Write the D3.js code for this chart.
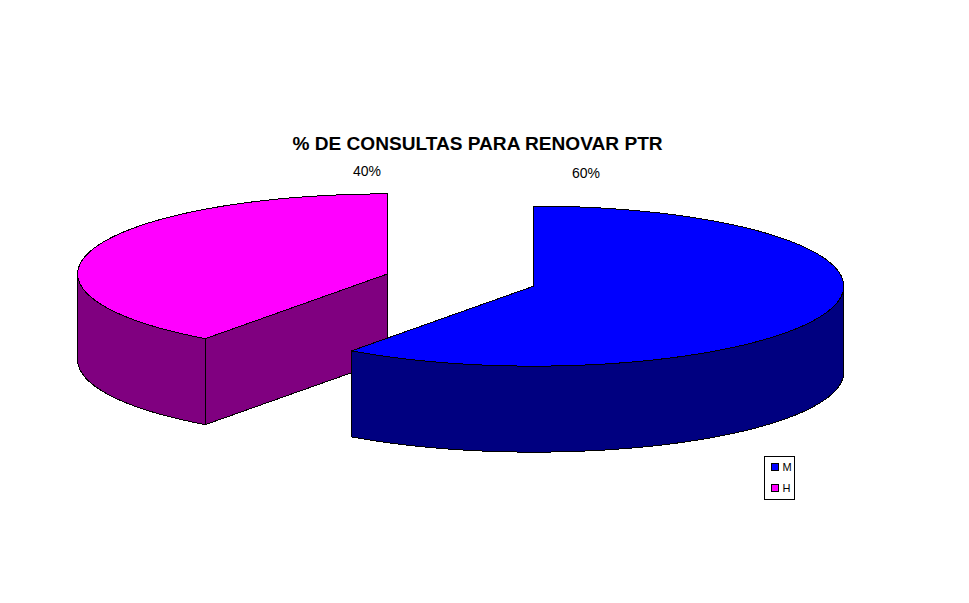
<!DOCTYPE html>
<html>
<head>
<meta charset="utf-8">
<style>
  html, body { margin: 0; padding: 0; background: #fff; }
  text { font-family: "Liberation Sans", Arial, sans-serif; fill: #000; }
</style>
</head>
<body>
<div id="chart"></div>
<script src="https://cdn.jsdelivr.net/npm/d3@7"></script>
<script>
const categories = ["M", "H"];
const values = [60, 40];
const topColors = ["#0000ff", "#ff00ff"];
const sideColors = ["#000080", "#800080"];
const chartTitle = "% DE CONSULTAS PARA RENOVAR PTR";

const width = 969, height = 603;

// pie geometry
const cx = 460.7, cy = 280;
const rx = 310, ry = 80;
const depth = 86;
const explode = 76.8;

const svg = d3.select("#chart").append("svg")
    .attr("width", width)
    .attr("height", height)
    .style("display", "block");

const slices = d3.pie().sort(null)(values);
const total = d3.sum(values);
const pct = d3.format(".0%");

// angle in radians (clockwise from 12 o'clock) -> point on the tilted ellipse
const xScale = d3.scaleLinear().domain([-1, 1]).range([-rx, rx]);
const yScale = d3.scaleLinear().domain([-1, 1]).range([-ry, ry]);
const px = (c, a) => c.x + xScale(Math.sin(a));
const py = (c, a) => c.y + yScale(-Math.cos(a));

const line = d3.line().x(d => d[0]).y(d => d[1]);

function centre(s) {
    const mid = (s.startAngle + s.endAngle) / 2;
    return {
        x: cx + explode * Math.sin(mid),
        y: cy - explode * Math.cos(mid) * ry / rx
    };
}

function rim(c, a0, a1, dy) {
    const n = Math.max(2, Math.ceil(Math.abs(a1 - a0) / 0.01));
    return d3.range(n + 1).map(i => {
        const a = a0 + (a1 - a0) * i / n;
        return [px(c, a), py(c, a) + dy];
    });
}

function topPath(s) {
    const c = centre(s);
    return line([[c.x, c.y], ...rim(c, s.startAngle, s.endAngle, 0)]) + "Z";
}

// walls that face the viewer, one list per slice
function wallPaths(s) {
    const c = centre(s);
    const walls = [];
    const from = Math.max(s.startAngle, Math.PI / 2);
    const to = Math.min(s.endAngle, Math.PI * 1.5);
    if (from < to) {
        const upper = rim(c, from, to, 0);
        const lower = rim(c, to, from, depth);
        walls.push(line([...upper, ...lower]) + "Z");
    }
    // cut face on the far end of the pink slice
    if (s.startAngle > Math.PI) {
        const a = s.startAngle;
        const ex = px(c, a), ey = py(c, a);
        walls.push(line([[ex, ey], [c.x, c.y], [c.x, c.y + depth], [ex, ey + depth]]) + "Z");
    }
    return walls;
}

// pink goes first, the blue slice sits in front of it
const order = slices.map((s, i) => ({ s, i })).reverse();

const group = svg.selectAll("g.slice")
    .data(order)
    .join("g")
    .attr("class", "slice")
    .attr("shape-rendering", "crispEdges")
    .attr("stroke", "#000")
    .attr("stroke-width", 1)
    .attr("stroke-linejoin", "round");

group.selectAll("path.wall")
    .data(d => wallPaths(d.s).map(p => ({ p, i: d.i })))
    .join("path")
    .attr("class", "wall")
    .attr("d", d => d.p)
    .attr("fill", d => sideColors[d.i]);

group.append("path")
    .attr("class", "top")
    .attr("d", d => topPath(d.s))
    .attr("fill", d => topColors[d.i]);

svg.append("text")
    .attr("x", 477.5)
    .attr("y", 150)
    .attr("text-anchor", "middle")
    .attr("font-size", 19.1)
    .attr("font-weight", "bold")
    .text(chartTitle);

// percent labels
const labelX = [586, 367];
const labelY = [178, 176];
svg.selectAll("text.pct")
    .data(slices)
    .join("text")
    .attr("class", "pct")
    .attr("x", (d, i) => labelX[i])
    .attr("y", (d, i) => labelY[i])
    .attr("text-anchor", "middle")
    .attr("font-size", 14)
    .text(d => pct(d.value / total));

// legend
const legendY = d3.scaleBand().domain(categories).range([456, 499]);

svg.append("rect")
    .attr("x", 764.5).attr("y", 456.5)
    .attr("width", 30).attr("height", 43)
    .attr("fill", "#fff").attr("stroke", "#000")
    .attr("shape-rendering", "crispEdges");

const legend = svg.selectAll("g.legend")
    .data(categories)
    .join("g")
    .attr("class", "legend")
    .attr("transform", d => `translate(771,${legendY(d) + legendY.bandwidth() / 2})`);

legend.append("rect")
    .attr("x", 0.5).attr("y", -3.5)
    .attr("width", 7).attr("height", 7)
    .attr("fill", (d, i) => topColors[i])
    .attr("stroke", "#000")
    .attr("shape-rendering", "crispEdges");

legend.append("text")
    .attr("x", 11.5)
    .attr("y", 4)
    .attr("font-size", 11)
    .text(d => d);
</script>
</body>
</html>
